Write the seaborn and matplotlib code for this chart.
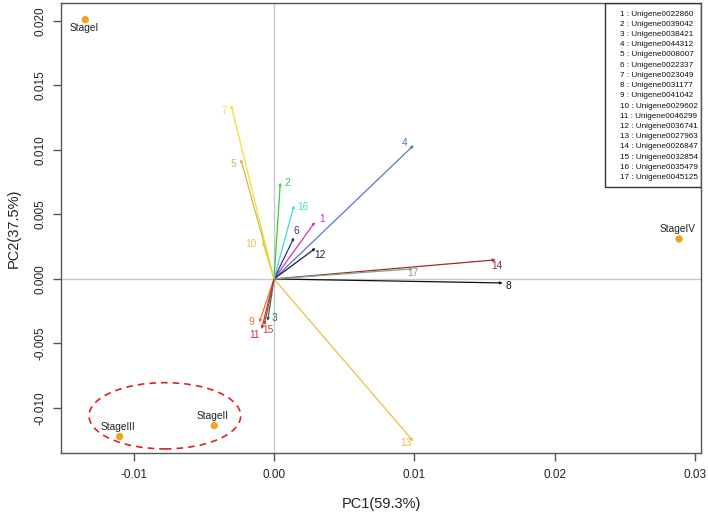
import matplotlib
matplotlib.use("Agg")
import matplotlib.pyplot as plt
from matplotlib.patches import Ellipse, Rectangle
import seaborn as sns
import pandas as pd

# sample scores
stages = ["StageI", "StageII", "StageIII", "StageIV"]
stage_pc1 = [-0.01345, -0.00426, -0.0110, 0.02887]
stage_pc2 = [0.0201, -0.01137, -0.01222, 0.0031]

# gene loadings (arrow tips)
gene_ids = ["Unigene0022860", "Unigene0039042", "Unigene0038421", "Unigene0044312",
            "Unigene0008007", "Unigene0022337", "Unigene0023049", "Unigene0031177",
            "Unigene0041042", "Unigene0029602", "Unigene0046299", "Unigene0036741",
            "Unigene0027963", "Unigene0026847", "Unigene0032854", "Unigene0035479",
            "Unigene0045125"]
gene_pc1 = [0.00292, 0.00045, -0.00045, 0.00996, -0.00237, 0.00143, -0.00306, 0.0163,
            -0.00105, -0.00081, -0.00088, 0.00297, 0.00993, 0.0158, -0.00069, 0.00143, 0.0099]
gene_pc2 = [0.00441, 0.00747, -0.00325, 0.01037, 0.00929, 0.00322, 0.01349, -0.00031,
            -0.00337, 0.0029, -0.00389, 0.00239, -0.01258, 0.00148, -0.00358, 0.0057, 0.00078]

gene_colors = ["#C832C8", "#3EC43E", "#2F6E55", "#5577CC", "#D6B44A", "#3030A0",
               "#F0E030", "#111111", "#E8742A", "#E8CC55", "#D8283C", "#1E1E3A",
               "#E8C23A", "#A02828", "#B04A30", "#3ADCDC", "#78A88C"]
# label offsets from arrow tip, in pixels (x right, y down)
label_dx = [6.7, 7.4, 7, -8.7, -7.4, 2.3, -7, 5.6, -8.3, -11.7, -6.7, 4.6, -7.3, 1, 3.5, 9.3, 0]
label_dy = [-3.3, 0, -2.5, -1.7, 4.6, -6.4, 6, 2.7, 0, 2.6, 5.7, 6.7, 1.6, 5.7, 5, 1.6, 4]

sns.set_style("white")
plt.rcParams['font.family'] = ['Liberation Sans', 'DejaVu Sans']

fig = plt.figure(figsize=(7.08, 5.15), dpi=100)
ax = fig.add_axes([0.0862, 0.121, 0.9044, 0.8726])

ax.axhline(0, color="#c8c8c8", lw=1, zorder=0)
ax.axvline(0, color="#c8c8c8", lw=1, zorder=0)

for i in range(len(gene_ids)):
    ax.annotate("", xy=(gene_pc1[i], gene_pc2[i]), xytext=(0, 0),
                arrowprops=dict(arrowstyle="-|>", color=gene_colors[i], lw=0.9,
                                mutation_scale=3.5, shrinkA=0, shrinkB=0))
    ax.annotate(str(i + 1), xy=(gene_pc1[i], gene_pc2[i]),
                xytext=(label_dx[i] * 0.72, -label_dy[i] * 0.72), textcoords="offset points",
                ha="center", va="center", fontsize=7.3, color=gene_colors[i])

df = pd.DataFrame({"PC1": stage_pc1, "PC2": stage_pc2, "stage": stages})
sns.scatterplot(data=df, x="PC1", y="PC2", ax=ax, color="#F2A21E", s=28,
                edgecolor="none", zorder=5, legend=False)
for i, st in enumerate(stages):
    off = -8 if st == "StageI" else 10
    ax.annotate(st, xy=(stage_pc1[i], stage_pc2[i]), xytext=(-1, off * 0.72),
                textcoords="offset points", ha="center", va="center", fontsize=7.3, color="#222222")

ax.add_patch(Ellipse((-0.00778, -0.01061), 0.01081, 0.00514, fill=False,
                     edgecolor="#DD2222", lw=1.2, ls=(0, (4, 3)), zorder=4))

# legend box
ax.add_patch(Rectangle((0.849, 0.5906), 0.151, 0.4094, transform=ax.transAxes,
                       fill=False, edgecolor="#333333", lw=1, zorder=6))
for i, g in enumerate(gene_ids):
    ax.text(0.873, 0.976 - i * 0.02273, f"{i + 1} : {g}", transform=ax.transAxes,
            ha="left", va="center", fontsize=5.9, color="#111111")

ax.set_xlim(-0.01518, 0.03046)
ax.set_ylim(-0.01347, 0.02137)
ax.set_xticks([-0.01, 0.0, 0.01, 0.02, 0.03])
ax.set_xticklabels(["-0.01", "0.00", "0.01", "0.02", "0.03"])
ax.set_yticks([-0.01, -0.005, 0.0, 0.005, 0.01, 0.015, 0.02])
ax.set_yticklabels(["-0.010", "-0.005", "0.000", "0.005", "0.010", "0.015", "0.020"],
                   rotation=90, va="center")
ax.tick_params(axis="both", direction="out", length=5.5, width=1, color="#555555",
               labelsize=8.5, labelcolor="#222222", bottom=True, left=True)
ax.tick_params(axis="x", pad=6)
ax.tick_params(axis="y", pad=5)
for sp in ax.spines.values():
    sp.set_color("#555555")
    sp.set_linewidth(1)

ax.set_xlabel("PC1(59.3%)", fontsize=10.5, color="#222222", labelpad=12)
ax.set_ylabel("PC2(37.5%)", fontsize=10.5, color="#222222", labelpad=10)

plt.savefig("out.png", dpi=100)
